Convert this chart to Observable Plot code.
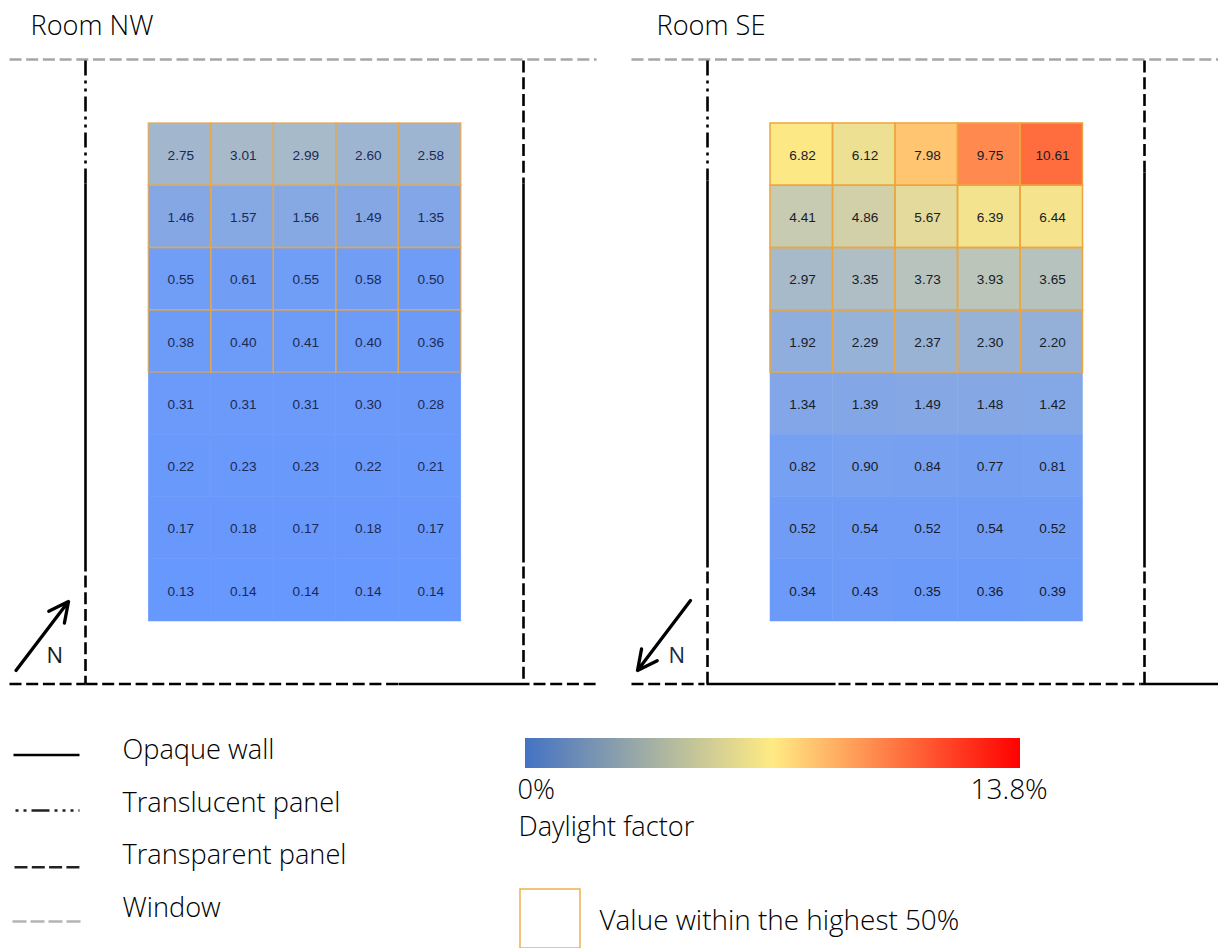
<!DOCTYPE html>
<html><head><meta charset="utf-8">
<script src="https://cdn.jsdelivr.net/npm/d3@7"></script>
<script src="https://cdn.jsdelivr.net/npm/@observablehq/plot@0.6"></script>
<style>html,body{margin:0;padding:0;background:#fff}svg{display:block}</style>
</head><body><div id="chart"></div>
<script>
// Data
const columns = [0,1,2,3,4];
const rows = [0,1,2,3,4,5,6,7];
const nwValues = [
  [2.75,3.01,2.99,2.60,2.58],
  [1.46,1.57,1.56,1.49,1.35],
  [0.55,0.61,0.55,0.58,0.50],
  [0.38,0.40,0.41,0.40,0.36],
  [0.31,0.31,0.31,0.30,0.28],
  [0.22,0.23,0.23,0.22,0.21],
  [0.17,0.18,0.17,0.18,0.17],
  [0.13,0.14,0.14,0.14,0.14]
];
const seValues = [
  [6.82,6.12,7.98,9.75,10.61],
  [4.41,4.86,5.67,6.39,6.44],
  [2.97,3.35,3.73,3.93,3.65],
  [1.92,2.29,2.37,2.30,2.20],
  [1.34,1.39,1.49,1.48,1.42],
  [0.82,0.90,0.84,0.77,0.81],
  [0.52,0.54,0.52,0.54,0.52],
  [0.34,0.43,0.35,0.36,0.39]
];
const highlightedRows = [0,1,2,3];
const legendLabels = ["Opaque wall","Translucent panel","Transparent panel","Window"];

// Layout
const cellW = 62.5, cellH = 62.25;
const rooms = [
  {name:"Room NW", values:nwValues, gx:148.3, tx:30, hiOpacity:0.7, ink:"#1b2a55"},
  {name:"Room SE", values:seValues, gx:770, tx:656, hiOpacity:1, ink:"#171c28"}
];
const cells = rooms.flatMap(r => rows.flatMap(i => columns.map(j => ({
  x1:r.gx+j*cellW, x2:r.gx+(j+1)*cellW, y1:123+i*cellH, y2:123+(i+1)*cellH,
  v:r.values[i][j], hi:highlightedRows.includes(i), hiOpacity:r.hiOpacity, ink:r.ink
}))));

const styles = {
  wall:{stroke:"#000",strokeWidth:2.6},
  translucent:{stroke:"#000",strokeWidth:2.6,strokeDasharray:"15 5 3 5 3 5"},
  translucentKey:{stroke:"#222",strokeWidth:2.6,strokeDasharray:"3 5 3 5 18 5 3 5 3 5 3 5 3"},
  transparent:{stroke:"#000",strokeWidth:2.6,strokeDasharray:"12 4.7"},
  transparentKey:{stroke:"#222",strokeWidth:2.6,strokeDasharray:"13 4.3"},
  window:{stroke:"#a6a6a6",strokeWidth:2.6,strokeDasharray:"12 4.7"},
  windowKey:{stroke:"#b4b4b4",strokeWidth:2.6,strokeDasharray:"14 4"}
};
const seg = (kind,x1,y1,x2,y2) => Plot.link([{x1,y1,x2,y2}],{x1:"x1",y1:"y1",x2:"x2",y2:"y2",strokeLinecap:"butt",...styles[kind]});
const walls = [
  seg("window",9,59,596,59), seg("window",631,59,1218,59),
  seg("translucent",85,60,85,183), seg("wall",85,183,85,571), seg("transparent",85,575,85,683),
  seg("transparent",523,60,523,183), seg("wall",523,183,523,562), seg("transparent",523,566,523,680),
  seg("transparent",9,683.5,85,683.5), seg("transparent",85,683.5,398,683.5), seg("wall",398,683.5,529,683.5), seg("transparent",533,683.5,596,683.5),
  seg("translucent",707,60,707,180), seg("wall",707,180,707,567), seg("transparent",707,571,707,683),
  seg("transparent",1144,60,1144,172), seg("wall",1144,172,1144,567), seg("transparent",1144,571,1144,683),
  seg("transparent",631,683.5,704,683.5), seg("wall",706,683.5,835,683.5), seg("transparent",838,683.5,1140,683.5), seg("wall",1140,683.5,1218,683.5)
];
const legendSegs = [
  seg("wall",13,754.5,79,754.5), seg("translucentKey",15,810,79,810),
  seg("transparentKey",14,866.7,79,866.7), seg("windowKey",12,921,80,921)
];
const txt = (t,x,y,size=27.2,anchor="start",fill="#000",weight=300) => Plot.text([t],{x:()=>x,y:()=>y,text:d=>d,fontSize:size,textAnchor:anchor,fill,fontFamily:"Open Sans, sans-serif",fontWeight:weight});

const gradient = () => {
  const s = d3.create("svg:g");
  const g = s.append("defs").append("linearGradient").attr("id","barGrad");
  [[0,"#4472c4"],[0.5,"#ffeb84"],[1,"#ff0000"]].forEach(([o,c])=>g.append("stop").attr("offset",o).attr("stop-color",c));
  return s.node();
};
const arrowHead = {stroke:"#000",strokeWidth:3.3,headLength:10,headAngle:53};

const chart = Plot.plot({
  width:1218, height:948, margin:0,
  x:{domain:[0,1218],range:[0,1218],axis:null},
  y:{domain:[0,948],range:[0,948],axis:null},
  color:{type:"linear",domain:[0,6.9,13.8],range:["#6496ff","#ffe985","#ff0000"],interpolate:"rgb"},
  marks:[
    gradient,
    Plot.rect(cells,{x1:"x1",x2:"x2",y1:"y1",y2:"y2",fill:"v",stroke:"v",strokeWidth:0.5}),
    Plot.rect(cells.filter(d=>d.hi),{x1:"x1",x2:"x2",y1:"y1",y2:"y2",stroke:"#eda63f",strokeOpacity:"hiOpacity",strokeWidth:1.5,fill:"none"}),
    Plot.text(cells,{x:d=>(d.x1+d.x2)/2+0.8,y:d=>(d.y1+d.y2)/2+1,text:d=>d.v.toFixed(2),fontSize:13.6,fill:"ink",fontFamily:"Liberation Sans"}),
    ...walls, ...legendSegs,
    ...rooms.map(r=>txt(r.name,r.tx,26)),
    Plot.arrow([{x1:15.5,y1:670,x2:68,y2:601}],{x1:"x1",y1:"y1",x2:"x2",y2:"y2",...arrowHead}),
    Plot.arrow([{x1:690,y1:600,x2:637,y2:670}],{x1:"x1",y1:"y1",x2:"x2",y2:"y2",...arrowHead}),
    txt("N",46,655,22,"start","#1a1a1a",400), txt("N",668,655,22,"start","#1a2a4a",400),
    ...legendLabels.map((t,i)=>txt(t,122,[750,803,855,908][i])),
    Plot.rect([{x1:525,x2:1020,y1:738,y2:768}],{x1:"x1",x2:"x2",y1:"y1",y2:"y2",fill:"url(#barGrad)"}),
    txt("0%",517,790), txt("13.8%",970,790,28), txt("Daylight factor",518,827),
    Plot.rect([{x1:520,x2:580,y1:889,y2:948}],{x1:"x1",x2:"x2",y1:"y1",y2:"y2",stroke:"#f0b050",strokeWidth:1.5,fill:"none"}),
    txt("Value within the highest 50%",599,921,27.9)
  ]
});
document.getElementById("chart").append(chart);
</script></body></html>
